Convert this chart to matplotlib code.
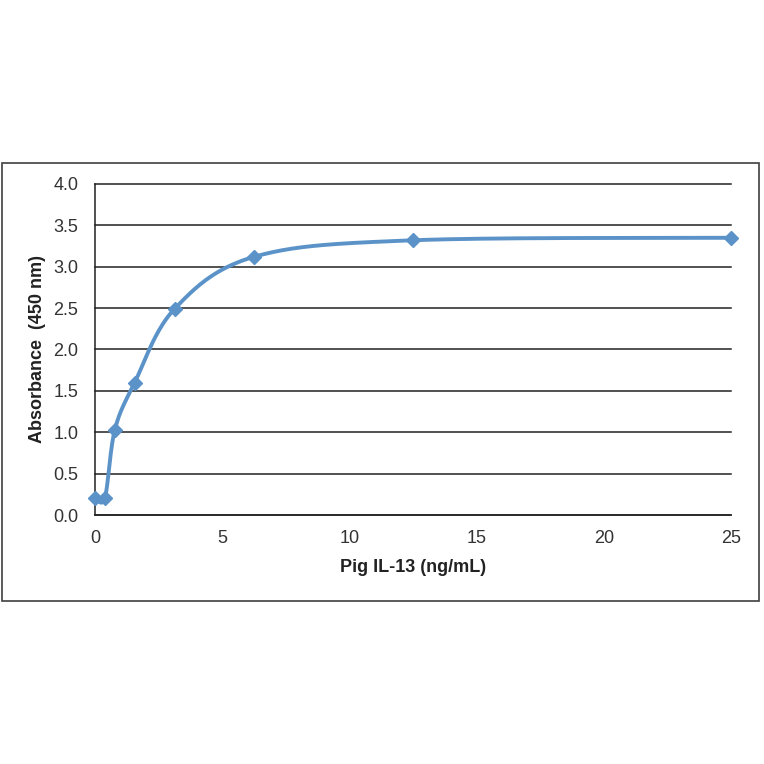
import numpy as np
import matplotlib
matplotlib.use("Agg")
import matplotlib.pyplot as plt
from matplotlib.patches import Rectangle

conc = [0, 0.39, 0.78, 1.56, 3.125, 6.25, 12.5, 25]
absorb = [0.21, 0.21, 1.03, 1.60, 2.49, 3.12, 3.32, 3.35]
xticks = [0, 5, 10, 15, 20, 25]
yticks = [0.0, 0.5, 1.0, 1.5, 2.0, 2.5, 3.0, 3.5, 4.0]

plt.rcParams['font.family'] = ['Liberation Sans', 'DejaVu Sans']

def catmull(xs, ys, n=40):
    xs = np.asarray(xs, float); ys = np.asarray(ys, float)
    px = np.concatenate([[xs[0]], xs, [xs[-1]]])
    py = np.concatenate([[ys[0]], ys, [ys[-1]]])
    outx, outy = [], []
    for i in range(1, len(px) - 2):
        p0 = np.array([px[i], py[i]]); p1 = np.array([px[i+1], py[i+1]])
        c1 = p0 + (p1 - np.array([px[i-1], py[i-1]])) / 6
        c2 = p1 - (np.array([px[i+2], py[i+2]]) - p0) / 6
        t = np.linspace(0, 1, n)[:, None]
        b = (1-t)**3*p0 + 3*(1-t)**2*t*c1 + 3*(1-t)*t**2*c2 + t**3*p1
        outx.extend(b[:, 0]); outy.extend(b[:, 1])
    return np.array(outx), np.array(outy)

fig = plt.figure(figsize=(7.64, 7.64), dpi=100)
fig.patches.append(Rectangle((2/764, 1-601/764), 757/764, 438/764,
                             transform=fig.transFigure, fill=False,
                             edgecolor='#404040', linewidth=1.2))
ax = fig.add_axes([95/764, 1-515/764, 636/764, 331/764])
ax.set_xlim(0, 25)
ax.set_ylim(0, 4)
sxp, syp = catmull(np.array(conc)*25.44, np.array(absorb)*82.75)
ax.plot(sxp/25.44, syp/82.75, color='#5B93C9', linewidth=2.8, zorder=3,
        clip_on=False)
ax.plot(conc, absorb, linestyle='none', marker='D', markersize=7,
        color='#5B93C9', zorder=4, clip_on=False)
ax.set_yticks(yticks)
ax.set_yticklabels([f"{v:.1f}" for v in yticks])
ax.set_xticks(xticks)
ax.grid(axis='y', color='#222222', linewidth=1.1, clip_on=False)
ax.set_axisbelow(True)
for s in ['top', 'right']:
    ax.spines[s].set_visible(False)
for s in ['left', 'bottom']:
    ax.spines[s].set_color('#222222')
    ax.spines[s].set_linewidth(1.1)
ax.tick_params(length=0, labelsize=13, colors='#333333')
ax.tick_params(axis='x', pad=11)
ax.tick_params(axis='y', pad=12)
ax.set_xlabel('Pig IL-13 (ng/mL)', fontsize=13, fontweight='bold',
              color='#222222')
ax.set_ylabel('Absorbance  (450 nm)', fontsize=13, fontweight='bold',
              color='#222222')
ax.xaxis.label.set_verticalalignment('center')
ax.yaxis.label.set_verticalalignment('center')
ax.xaxis.set_label_coords(0.5, (515 - 567) / 331)
ax.yaxis.set_label_coords((37 - 95) / 636, 0.5)
fig.savefig('out.png', dpi=100, facecolor='white')
